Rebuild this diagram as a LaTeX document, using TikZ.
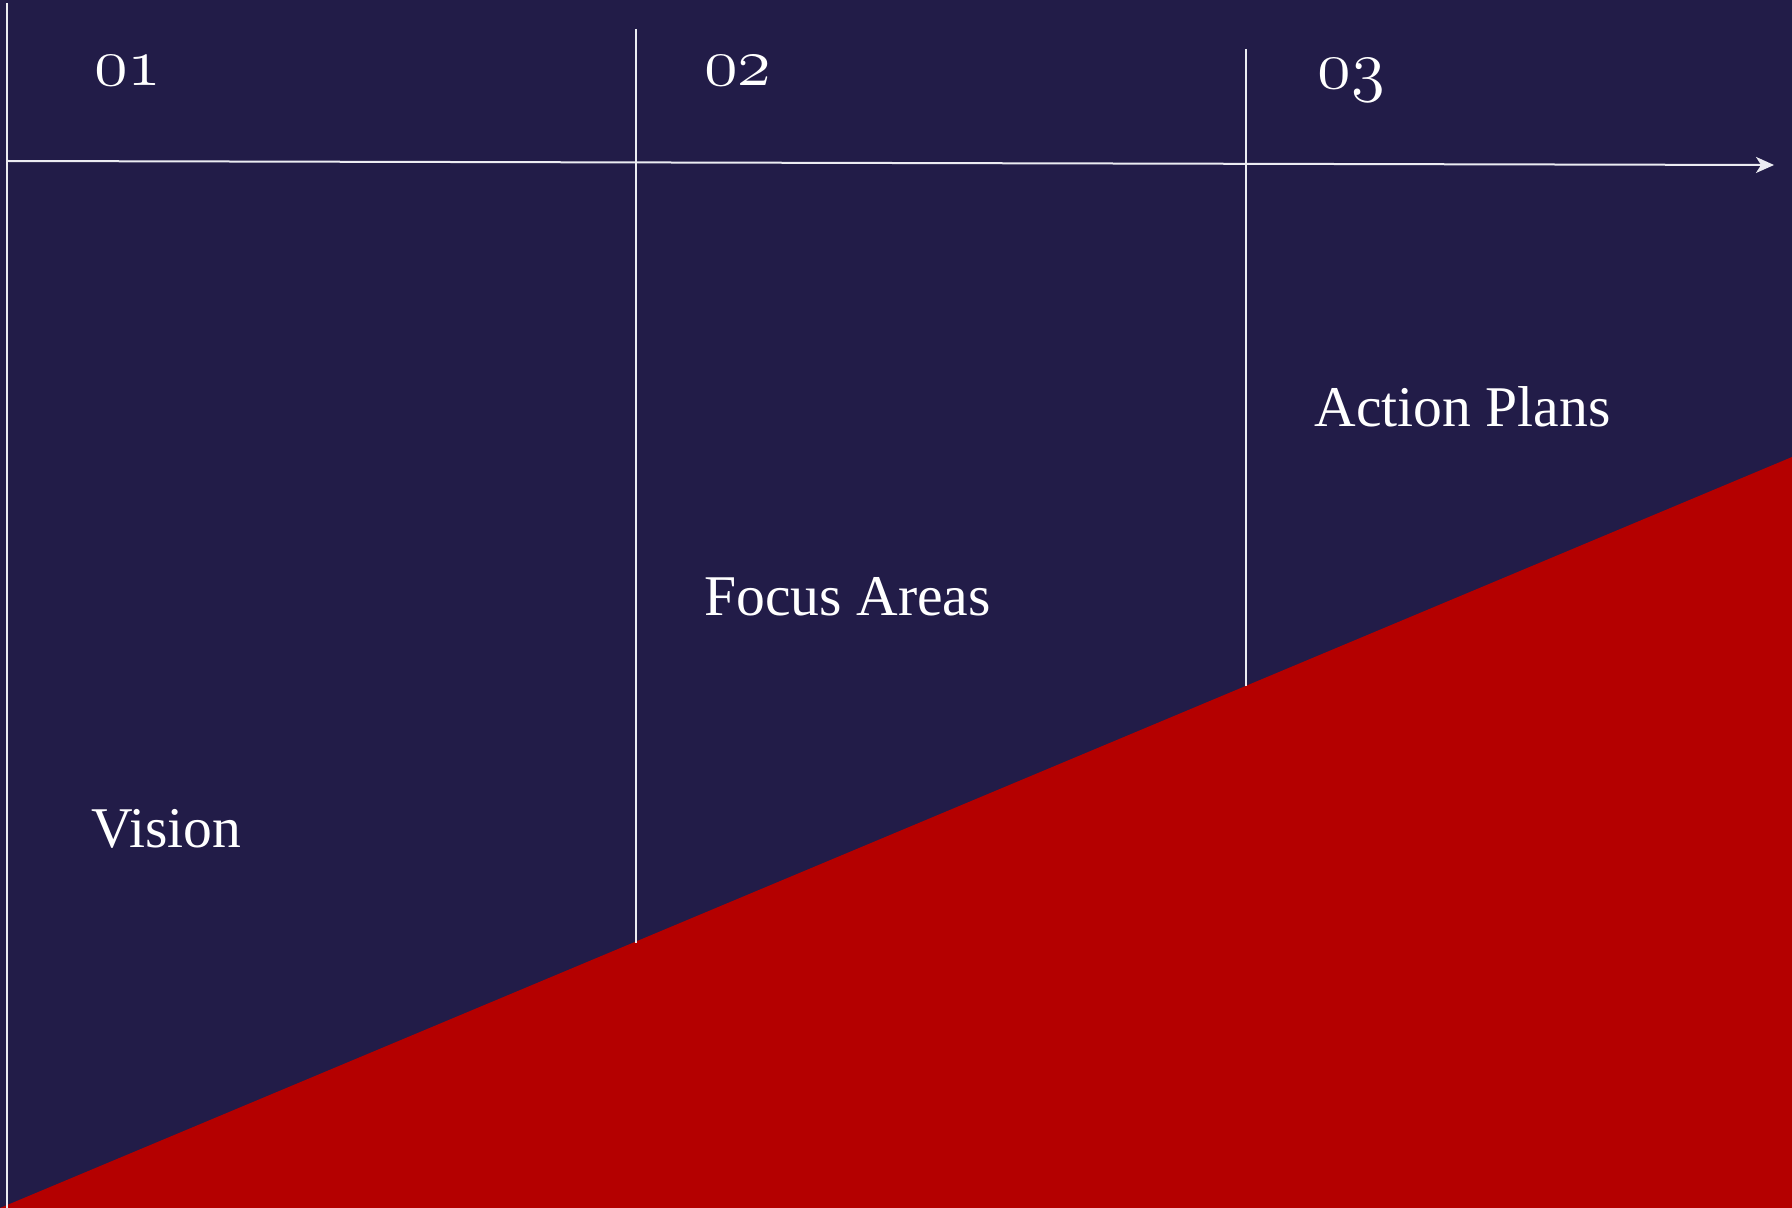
\documentclass[tikz,border=0pt]{standalone}
\usepackage{fontspec}
\newfontfamily\labelfont{Liberation Serif}
\newcommand{\oldnum}[1]{\scalebox{1.38}{\usefont{OML}{lmm}{m}{it}#1}}
\usetikzlibrary{arrows.meta}
\definecolor{navybg}{HTML}{221C48}
\definecolor{redfill}{HTML}{B40000}
\definecolor{linecol}{HTML}{ECECF2}
\tikzset{
  gridline/.style={draw=linecol, line width=1pt},
  numlabel/.style={anchor=base west, inner sep=0pt, text=white, font=\fontsize{35}{40}\selectfont},
  steplabel/.style={anchor=base west, inner sep=0pt, text=white, font=\labelfont\fontsize{28.8}{34}\selectfont},
}
\begin{document}
\begin{tikzpicture}[x=0.5pt,y=-0.5pt]
\useasboundingbox (0,0) rectangle (1792,1208);
\fill[navybg] (0,0) rectangle (1792,1208);
% red rising triangle
\fill[redfill] (0,1208) -- (1792,457) -- (1792,1208) -- cycle;
% coordinates
\coordinate (ltop) at (7,3);
\coordinate (lbot) at (7,1208);
\coordinate (axs) at (7,161);
\coordinate (axe) at (1774,165);
\coordinate (v2t) at (636,29);
\coordinate (v2b) at (636,943);
\coordinate (v3t) at (1246,49);
\coordinate (v3b) at (1246,686);
% lines
\draw[gridline] (ltop) -- (lbot);
\draw[gridline] (v2t) -- (v2b);
\draw[gridline] (v3t) -- (v3b);
\draw[gridline, -{Stealth[length=9pt,width=8pt,inset=2.5pt]}] (axs) -- (axe);
% numbers
\node[numlabel] (n1) at (94,86) {\oldnum{01}};
\node[numlabel] (n2) at (704,86) {\oldnum{02}};
\node[numlabel] (n3) at (1317,89) {\oldnum{03}};
% labels
\node[steplabel] (vision) at (91,847) {Vision};
\node[steplabel] (focus) at (704,615) {Focus Areas};
\node[steplabel] (action) at (1314,426) {Action Plans};
\end{tikzpicture}
\end{document}
